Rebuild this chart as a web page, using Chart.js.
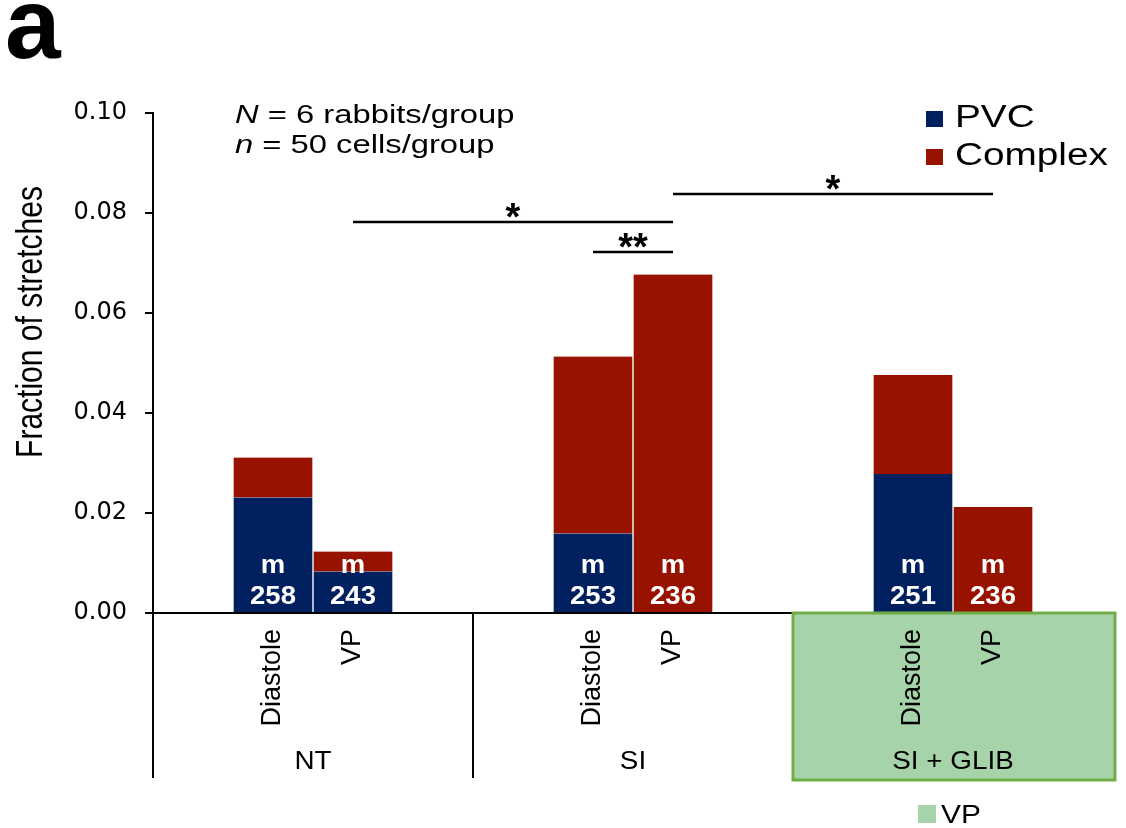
<!DOCTYPE html>
<html>
<head>
<meta charset="utf-8">
<script src="https://cdn.jsdelivr.net/npm/chart.js@4.4.1/dist/chart.umd.min.js"></script>
<style>
  html, body { margin: 0; padding: 0; background: #ffffff; }
  canvas { display: block; }
</style>
</head>
<body>
<canvas id="chart" width="1126" height="828"></canvas>
<script>
// Category slots: each condition group holds an empty slot, Diastole, VP, empty slot
const categories = ['', 'Diastole', 'VP', '', '', 'Diastole', 'VP', '', '', 'Diastole', 'VP', ''];
const groupLabels = ['NT', 'SI', 'SI + GLIB'];
const pvcValues = [null, 0.0231, 0.0083, null, null, 0.0159, 0, null, null, 0.0278, 0, null];
const complexValues = [null, 0.0080, 0.0040, null, null, 0.0354, 0.0677, null, null, 0.0198, 0.0212, null];
const cellCounts = [null, 258, 243, null, null, 253, 236, null, null, 251, 236, null];
const yTicks = [0, 0.02, 0.04, 0.06, 0.08, 0.10];
// Significance brackets between category slots, at a height in data units
const sigBrackets = [
  { from: 2, to: 6, y: 0.0782, label: '*' },
  { from: 5, to: 6, y: 0.0722, label: '**' },
  { from: 6, to: 10, y: 0.0838, label: '*' }
];
const seriesNames = ['PVC', 'Complex'];
const highlightGroup = 2;

const FONT = "'Liberation Sans', Arial, Helvetica, sans-serif";
const BLUE = '#002060';
const RED = '#971300';
const GREEN_FILL = '#a6d3a9';
const GREEN_EDGE = '#70ad47';

// text drawn slightly widened, like the rest of the figure's lettering
function stretchedText(ctx, text, x, y, sx, align) {
  ctx.save();
  ctx.translate(x, y);
  ctx.scale(sx, 1);
  ctx.textAlign = align || 'left';
  ctx.fillText(text, 0, 0);
  ctx.restore();
}

const decor = {
  id: 'decor',
  beforeDraw(chart) {
    const { ctx, chartArea, scales: { x } } = chart;
    const base = chartArea.bottom;
    const g0 = highlightGroup * 4;
    const left = (x.getPixelForValue(g0 - 1) + x.getPixelForValue(g0)) / 2;
    ctx.save();
    ctx.fillStyle = GREEN_FILL;
    ctx.fillRect(left, base, chartArea.right + 2 - left, 780 - base);
    ctx.restore();
  },
  afterDraw(chart) {
    const { ctx, chartArea, scales: { x, y } } = chart;
    const base = chartArea.bottom;
    const zero = y.getPixelForValue(0);
    ctx.save();

    // axis extension and group separators below the baseline
    ctx.strokeStyle = '#000';
    ctx.lineWidth = 2;
    ctx.beginPath();
    ctx.moveTo(chartArea.left, base);
    ctx.lineTo(chartArea.left, 778);
    for (let g = 1; g < groupLabels.length; g++) {
      if (g === highlightGroup) continue;
      const sx = (x.getPixelForValue(g * 4 - 1) + x.getPixelForValue(g * 4)) / 2;
      ctx.moveTo(sx, base);
      ctx.lineTo(sx, 778);
    }
    ctx.stroke();

    // highlighted group frame
    const g0 = highlightGroup * 4;
    const hl = (x.getPixelForValue(g0 - 1) + x.getPixelForValue(g0)) / 2;
    ctx.strokeStyle = GREEN_EDGE;
    ctx.lineWidth = 3;
    ctx.strokeRect(hl, base, chartArea.right + 2 - hl, 780 - base);

    // group names
    ctx.fillStyle = '#000';
    ctx.font = `26px ${FONT}`;
    ctx.textBaseline = 'alphabetic';
    groupLabels.forEach((name, g) => {
      const cx = (x.getPixelForValue(g * 4 + 1) + x.getPixelForValue(g * 4 + 2)) / 2;
      stretchedText(ctx, name, cx, 769, 1.07, 'center');
    });

    // in-bar labels
    const meta = chart.getDatasetMeta(0);
    ctx.fillStyle = '#fff';
    ctx.font = `bold 25px ${FONT}`;
    cellCounts.forEach((n, i) => {
      if (n == null) return;
      const bx = meta.data[i].x;
      stretchedText(ctx, 'm', bx, zero - 40, 1.1, 'center');
      stretchedText(ctx, String(n), bx, zero - 9, 1.1, 'center');
    });

    // significance brackets
    ctx.strokeStyle = '#000';
    ctx.fillStyle = '#000';
    ctx.lineWidth = 2.5;
    ctx.font = `bold 38px ${FONT}`;
    ctx.textAlign = 'center';
    sigBrackets.forEach(b => {
      const x1 = x.getPixelForValue(b.from);
      const x2 = x.getPixelForValue(b.to);
      const ly = y.getPixelForValue(b.y);
      ctx.beginPath();
      ctx.moveTo(x1, ly);
      ctx.lineTo(x2, ly);
      ctx.stroke();
      const m = ctx.measureText(b.label);
      const h = m.actualBoundingBoxAscent + m.actualBoundingBoxDescent;
      const centerY = ly - 12;
      ctx.fillText(b.label, (x1 + x2) / 2, centerY + m.actualBoundingBoxAscent - h / 2);
    });

    // panel letter
    ctx.font = `bold 100px ${FONT}`;
    ctx.textAlign = 'left';
    ctx.fillText('a', 5, 58);

    // sample sizes
    const noteSx = 1.26;
    const noteLines = [['N', ' = 6 rabbits/group', 123], ['n', ' = 50 cells/group', 153]];
    noteLines.forEach(([sym, rest, by]) => {
      ctx.font = `italic 26px ${FONT}`;
      stretchedText(ctx, sym, 235, by, noteSx, 'left');
      const w = ctx.measureText(sym).width * noteSx;
      ctx.font = `26px ${FONT}`;
      stretchedText(ctx, rest, 235 + w, by, noteSx, 'left');
    });

    // y-axis title
    ctx.font = `30px ${FONT}`;
    ctx.save();
    ctx.translate(42, 322);
    ctx.scale(1.2, 1);
    ctx.rotate(-Math.PI / 2);
    ctx.textAlign = 'center';
    ctx.fillText('Fraction of stretches', 0, 0);
    ctx.restore();

    // series legend
    const legendColors = [BLUE, RED];
    const legendBase = [127, 165];
    ctx.font = `31px ${FONT}`;
    seriesNames.forEach((name, i) => {
      ctx.fillStyle = legendColors[i];
      ctx.fillRect(926, legendBase[i] - 16, 17, 16);
      ctx.fillStyle = '#000';
      stretchedText(ctx, name, 955, legendBase[i], 1.25, 'left');
    });

    // highlight legend
    ctx.fillStyle = GREEN_FILL;
    ctx.fillRect(918, 805, 18, 18);
    ctx.fillStyle = '#000';
    ctx.font = `26px ${FONT}`;
    stretchedText(ctx, 'VP', 941, 823, 1.15, 'left');

    ctx.restore();
  }
};

const barBorder = { left: 1, right: 1, top: 0, bottom: 0 };

new Chart(document.getElementById('chart'), {
  type: 'bar',
  data: {
    labels: categories,
    datasets: [
      { label: seriesNames[0], data: pvcValues, backgroundColor: BLUE, borderColor: '#ffffff', borderWidth: barBorder, borderSkipped: false },
      { label: seriesNames[1], data: complexValues, backgroundColor: RED, borderColor: '#ffffff', borderWidth: barBorder, borderSkipped: false }
    ]
  },
  options: {
    responsive: false,
    animation: false,
    devicePixelRatio: 1,
    layout: { padding: { left: 0, top: 113, right: 13, bottom: 0 } },
    datasets: { bar: { categoryPercentage: 1, barPercentage: 1 } },
    plugins: { legend: { display: false }, tooltip: { enabled: false } },
    scales: {
      x: {
        stacked: true,
        offset: true,
        grid: { display: false, drawTicks: false },
        border: { display: true, color: '#000', width: 2 },
        ticks: {
          autoSkip: false,
          minRotation: 90,
          maxRotation: 90,
          padding: 16,
          color: '#000',
          font: { family: FONT, size: 27 }
        },
        afterFit(s) { s.height = 215; s.paddingLeft = 0; s.paddingRight = 0; }
      },
      y: {
        stacked: true,
        min: 0,
        max: 0.1,
        afterBuildTicks(s) { s.ticks = yTicks.map(v => ({ value: v })); },
        ticks: {
          padding: 18,
          color: '#000',
          font: { family: "'DejaVu Sans', " + FONT, size: 24 },
          callback: v => Number(v).toFixed(2)
        },
        grid: { drawOnChartArea: false, drawTicks: true, tickLength: 8, color: '#000', lineWidth: 2 },
        border: { display: true, color: '#000', width: 2 },
        afterFit(s) { s.width = 153; }
      }
    }
  },
  plugins: [decor]
});
</script>
</body>
</html>
